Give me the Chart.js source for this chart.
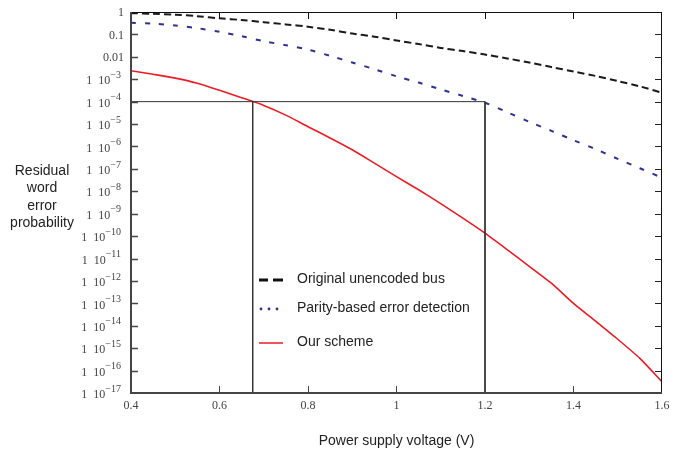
<!DOCTYPE html>
<html>
<head>
<meta charset="utf-8">
<script src="https://cdn.jsdelivr.net/npm/chart.js@4.4.1/dist/chart.umd.min.js"></script>
<style>
html,body{margin:0;padding:0;background:#fff;}
#wrap{width:681px;height:451px;}
</style>
</head>
<body>
<div id="wrap"><canvas id="c" width="681" height="451"></canvas></div>
<script>
// ---- data ----
const volts = [0.4,0.45,0.5,0.55,0.6,0.65,0.7,0.75,0.8,0.85,0.9,0.95,1.0,1.05,1.1,1.15,1.2,1.25,1.3,1.35,1.4,1.45,1.5,1.55,1.6];
const unencoded = [0.89,0.83,0.76,0.65,0.52,0.44,0.35,0.28,0.22,0.16,0.11,0.079,0.054,0.037,0.025,0.018,0.0126,0.0085,0.0056,0.0035,0.0022,0.0014,8.3e-4,4.8e-4,2.5e-4];
const parity = [0.33,0.30,0.25,0.19,0.13,0.083,0.05,0.033,0.021,0.011,5.6e-3,2.8e-3,1.35e-3,7.1e-4,3.5e-4,1.8e-4,8.9e-5,3.4e-5,1.26e-5,5.0e-6,1.9e-6,7.6e-7,2.8e-7,1.07e-7,4.0e-8];
const ours = [2.4e-3,1.66e-3,1.12e-3,6.6e-4,3.2e-4,1.5e-4,6.8e-5,2.5e-5,7.6e-6,2.4e-6,7.1e-7,1.8e-7,4.5e-8,1.17e-8,2.8e-9,6.3e-10,1.35e-10,2.5e-11,4.5e-12,7.9e-13,1.0e-13,1.6e-14,2.5e-15,3.5e-16,3.2e-17];
const guideLevel = 1e-4;
const guideVolts = [0.675, 1.2];
const seriesNames = ['Original unencoded bus','Parity-based error detection','Our scheme'];
const xTickValues = [0.4,0.6,0.8,1.0,1.2,1.4,1.6];
const xTickLabels = ['0.4','0.6','0.8','1','1.2','1.4','1.6'];
const yTickValues = [1,1e-1,1e-2,1e-3,1e-4,1e-5,1e-6,1e-7,1e-8,1e-9,1e-10,1e-11,1e-12,1e-13,1e-14,1e-15,1e-16,1e-17];
const yTickBase = ['1','0.1','0.01','1  10','1  10','1  10','1  10','1  10','1  10','1  10','1  10','1  10','1  10','1  10','1  10','1  10','1  10','1  10'];
const yTickExp = ['','','','\u22123','\u22124','\u22125','\u22126','\u22127','\u22128','\u22129','\u221210','\u221211','\u221212','\u221213','\u221214','\u221215','\u221216','\u221217'];
const xTitle = 'Power supply voltage (V)';
const yTitleLines = ['Residual','word','error','probability'];

const pts = (xs, ys) => xs.map((x, i) => ({x: x, y: ys[i]}));

const decor = {
  id: 'decor',
  afterDraw(chart) {
    const ctx = chart.ctx;
    const xs = chart.scales.x, ys = chart.scales.y;
    const a = chart.chartArea;
    ctx.save();
    // frame
    ctx.lineCap = 'butt';
    ctx.strokeStyle = '#111'; ctx.lineWidth = 1;
    ctx.beginPath();
    ctx.moveTo(a.left, a.top + 0.5); ctx.lineTo(a.right, a.top + 0.5);
    ctx.moveTo(a.right - 0.5, a.top); ctx.lineTo(a.right - 0.5, a.bottom);
    ctx.stroke();
    ctx.strokeStyle = '#444'; ctx.lineWidth = 2;
    ctx.beginPath();
    ctx.moveTo(a.left, a.top); ctx.lineTo(a.left, a.bottom);
    ctx.lineTo(a.right, a.bottom);
    ctx.stroke();
    // ticks
    ctx.lineWidth = 1;
    const tl = 7;
    xTickValues.forEach((v, i) => {
      if (i === 0 || i === xTickValues.length - 1) return;
      const px = Math.round(xs.getPixelForValue(v)) + 0.5;
      ctx.strokeStyle = '#111';
      ctx.beginPath(); ctx.moveTo(px, a.top); ctx.lineTo(px, a.top + tl); ctx.stroke();
      ctx.strokeStyle = '#444';
      ctx.beginPath(); ctx.moveTo(px, a.bottom); ctx.lineTo(px, a.bottom - tl); ctx.stroke();
    });
    yTickValues.forEach((v, i) => {
      if (i === 0 || i === yTickValues.length - 1) return;
      const py = Math.round(ys.getPixelForValue(v)) + 0.5;
      ctx.strokeStyle = '#444'; ctx.lineWidth = 1.5;
      ctx.beginPath(); ctx.moveTo(a.left, py); ctx.lineTo(a.left + tl, py); ctx.stroke();
      ctx.strokeStyle = '#222'; ctx.lineWidth = 1;
      ctx.beginPath(); ctx.moveTo(a.right, py); ctx.lineTo(a.right - tl, py); ctx.stroke();
    });
    // x tick labels
    ctx.fillStyle = '#444';
    ctx.font = '12px "Liberation Serif", serif';
    ctx.textAlign = 'center'; ctx.textBaseline = 'middle';
    xTickValues.forEach((v, i) => {
      ctx.fillText(xTickLabels[i], xs.getPixelForValue(v), a.bottom + 13);
    });
    // y tick labels
    const rightEdge = 124;
    yTickValues.forEach((v, i) => {
      const py = ys.getPixelForValue(v);
      ctx.textBaseline = 'middle';
      if (!yTickExp[i]) {
        ctx.font = '12px "Liberation Serif", serif';
        ctx.textAlign = 'right';
        ctx.fillText(yTickBase[i], rightEdge, py + 1);
      } else {
        ctx.font = '10px "Liberation Serif", serif';
        const ew = ctx.measureText(yTickExp[i]).width;
        ctx.textAlign = 'right';
        ctx.fillText(yTickExp[i], rightEdge - 3, py - 4);
        ctx.font = '12px "Liberation Serif", serif';
        ctx.fillText(yTickBase[i], rightEdge - 3 - ew, py + 2);
      }
    });
    // axis titles
    ctx.fillStyle = '#222';
    ctx.font = '14px "Liberation Sans", Arial, sans-serif';
    ctx.textAlign = 'center'; ctx.textBaseline = 'middle';
    ctx.fillText(xTitle, (a.left + a.right) / 2, 441);
    yTitleLines.forEach((t, i) => ctx.fillText(t, 42, 171 + i * 17.5));
    // legend
    const lx = 259, tx = 297, rows = [280, 309, 343];
    ctx.textAlign = 'left';
    seriesNames.forEach((n, i) => ctx.fillText(n, tx, rows[i] - 1));
    ctx.strokeStyle = '#111'; ctx.lineWidth = 3;
    ctx.beginPath(); ctx.moveTo(lx, rows[0]); ctx.lineTo(lx + 9, rows[0]);
    ctx.moveTo(lx + 14, rows[0]); ctx.lineTo(lx + 24, rows[0]); ctx.stroke();
    ctx.fillStyle = '#2e3192';
    [0, 8, 16].forEach(d => { ctx.beginPath(); ctx.arc(lx + 2 + d, rows[1], 1.4, 0, Math.PI * 2); ctx.fill(); });
    ctx.strokeStyle = '#ed1c24'; ctx.lineWidth = 1.5;
    ctx.beginPath(); ctx.moveTo(lx, rows[2]); ctx.lineTo(lx + 24, rows[2]); ctx.stroke();
    ctx.restore();
  }
};

new Chart(document.getElementById('c'), {
  type: 'line',
  data: {
    datasets: [
      { label: 'guide h', data: [{x: 0.4, y: guideLevel}, {x: guideVolts[1], y: guideLevel}, {x: guideVolts[1], y: 1e-17}],
        borderColor: '#333', borderWidth: 1, pointRadius: 0, tension: 0 },
      { label: 'guide v', data: [{x: guideVolts[0], y: guideLevel}, {x: guideVolts[0], y: 1e-17}],
        borderColor: '#333', borderWidth: 1, pointRadius: 0, tension: 0 },
      { label: seriesNames[0], data: pts(volts, unencoded), borderColor: '#1a1a1a', borderWidth: 2,
        borderDash: [7, 4], pointRadius: 0, tension: 0.3 },
      { label: seriesNames[1], data: pts(volts, parity), borderColor: '#2e3192', borderWidth: 2,
        borderDash: [5, 9], pointRadius: 0, tension: 0.3 },
      { label: seriesNames[2], data: pts(volts, ours), borderColor: '#ed1c24', borderWidth: 1.6,
        pointRadius: 0, tension: 0.2 }
    ]
  },
  options: {
    responsive: false,
    animation: false,
    devicePixelRatio: 1,
    layout: { padding: { left: 131, right: 19, top: 12, bottom: 58 } },
    plugins: { legend: { display: false }, tooltip: { enabled: false } },
    scales: {
      x: { type: 'linear', display: false, min: 0.4, max: 1.6 },
      y: { type: 'logarithmic', display: false, min: 1e-17, max: 1 }
    }
  },
  plugins: [decor]
});
</script>
</body>
</html>
